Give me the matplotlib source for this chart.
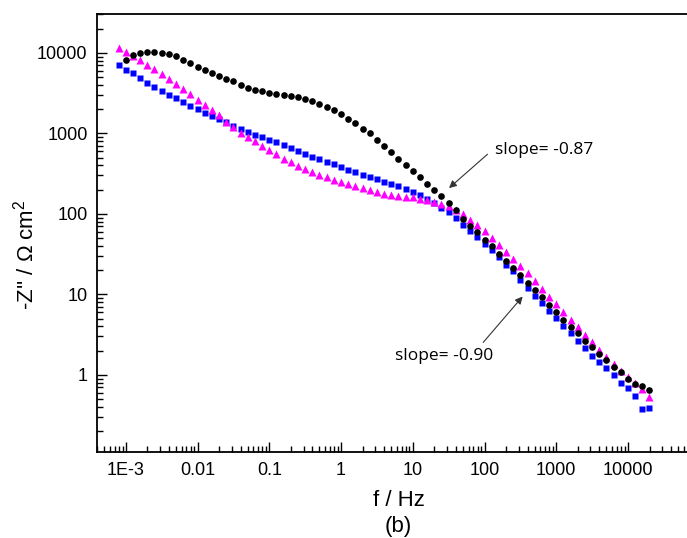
import matplotlib
matplotlib.use("Agg")
import matplotlib.pyplot as plt
from matplotlib.ticker import FixedLocator, FixedFormatter, LogLocator, NullFormatter

plt.rcParams['font.family'] = ['Liberation Sans', 'DejaVu Sans']
plt.rcParams['mathtext.fontset'] = 'custom'
plt.rcParams['mathtext.rm'] = 'Liberation Sans'

# frequencies, Hz (10 points per decade)
freq = [
    7.94e-4,
    1.00e-3, 1.26e-3, 1.58e-3, 2.00e-3, 2.51e-3, 3.16e-3, 3.98e-3, 5.01e-3, 6.31e-3, 7.94e-3,
    1.00e-2, 1.26e-2, 1.58e-2, 2.00e-2, 2.51e-2, 3.16e-2, 3.98e-2, 5.01e-2, 6.31e-2, 7.94e-2,
    1.00e-1, 1.26e-1, 1.58e-1, 2.00e-1, 2.51e-1, 3.16e-1, 3.98e-1, 5.01e-1, 6.31e-1, 7.94e-1,
    1.00, 1.26, 1.58, 2.00, 2.51, 3.16, 3.98, 5.01, 6.31, 7.94,
    10.0, 12.6, 15.8, 20.0, 25.1, 31.6, 39.8, 50.1, 63.1, 79.4,
    100, 126, 158, 200, 251, 316, 398, 501, 631, 794,
    1000, 1259, 1585, 1995, 2512, 3162, 3981, 5012, 6310, 7943,
    10000, 12589, 15849, 19953,
]

# -Z'' (ohm cm2)
z_black = [  # starts at 1E-3
    8110, 9360, 10000, 10110, 10200, 10000, 9550, 9020, 8180, 7510,
    6700, 6100, 5640, 5130, 4710, 4450, 3980, 3700, 3505, 3340,
    3210, 3090, 3000, 2915, 2830, 2675, 2557, 2346, 2128, 1937,
    1761, 1527, 1347, 1146, 1002, 836, 704, 595, 485, 408,
    340, 286, 237, 196, 165, 136, 112, 87, 70, 59,
    48, 40, 32, 26.3, 21.1, 17.3, 13.8, 11.2, 9.19, 7.39,
    5.99, 4.81, 3.97, 3.28, 2.66, 2.24, 1.81, 1.53, 1.26, 1.07,
    0.89, 0.78, 0.73, 0.65,
]
z_magenta = [
    11660, 10300, 9180, 8110, 7170, 6220, 5430, 4710, 4050, 3510,
    3065, 2630, 2280, 1940, 1680, 1375, 1200, 1020, 901, 796,
    704, 615, 548, 485, 436, 392, 357, 328, 303, 284,
    266, 248, 234, 221, 209, 196, 185, 176, 171, 167,
    164, 160, 154, 147, 140, 134, 124, 112, 100, 84.5,
    71.8, 62, 49.9, 41.2, 33.4, 27.6, 22.5, 18.2, 14.5, 11.7,
    9.38, 7.60, 5.98, 4.81, 3.89, 3.16, 2.53, 2.04, 1.68, 1.36,
    1.12, 0.93, 0.79, 0.67, 0.53,
]
z_blue = [
    7030, 6100, 5550, 4890, 4240, 3780, 3370, 3000, 2750, 2455,
    2190, 2010, 1790, 1640, 1495, 1385, 1235, 1130, 1031, 964,
    901, 836, 774, 710, 657, 603, 560, 514, 475, 445,
    412, 381, 354, 330, 307, 286, 270, 248, 232, 219,
    201, 186, 173, 154, 137, 119, 105, 89, 72, 62,
    51, 42.4, 35.7, 28.9, 23.4, 19.4, 15.0, 11.9, 9.66, 7.74,
    6.28, 5.09, 4.08, 3.28, 2.66, 2.13, 1.73, 1.43, 1.22, 1.00,
    0.80, 0.68, 0.55, 0.375, 0.39,
]

xticks = [1e-3, 1e-2, 1e-1, 1, 10, 100, 1000, 10000]
xtick_labels = ['1E-3', '0.01', '0.1', '1', '10', '100', '1000', '10000']
yticks = [1, 10, 100, 1000, 10000]
ytick_labels = ['1', '10', '100', '1000', '10000']

fig = plt.figure(figsize=(6.87, 5.38), dpi=100)
# the frame runs off the right edge of the picture, as in the original
ax = fig.add_axes([0.1416, 0.1599, 0.8769, 0.8132])

ax.plot(freq[1:], z_black, 'o', color='black', ms=4.8, mec='none', zorder=3)
ax.plot(freq, z_blue, 's', color='#0000ff', ms=4.4, mec='none', zorder=2)
ax.plot(freq, z_magenta, '^', color='#ff00ff', ms=5.8, mec='none', zorder=2)

ax.set_xscale('log')
ax.set_yscale('log')
ax.set_xlim(4e-4, 1e5)
ax.set_ylim(0.11, 3e4)

ax.xaxis.set_major_locator(FixedLocator(xticks))
ax.xaxis.set_major_formatter(FixedFormatter(xtick_labels))
ax.yaxis.set_major_locator(FixedLocator(yticks))
ax.yaxis.set_major_formatter(FixedFormatter(ytick_labels))
for axis in (ax.xaxis, ax.yaxis):
    axis.set_minor_locator(LogLocator(base=10, subs=range(2, 10), numticks=20))
    axis.set_minor_formatter(NullFormatter())

ax.tick_params(which='both', direction='in', top=False, right=False, width=1.0, labelsize=13)
ax.tick_params(which='major', length=7, pad=7)
ax.tick_params(which='minor', length=4)
for sp in ax.spines.values():
    sp.set_linewidth(1.3)

ax.set_xlabel('f / Hz\n(b)', fontsize=16, linespacing=1.3, labelpad=8)
ax.set_ylabel("-Z'' / \u03a9 cm$^{2}$", fontsize=16)
ax.yaxis.set_label_coords(-0.097, 0.45)

# slope annotations
arrow = dict(arrowstyle='-|>', color='#333333', lw=0.8, mutation_scale=11, shrinkA=0, shrinkB=0)
ax.annotate('', xy=(32, 209), xytext=(110, 550), arrowprops=arrow)
ax.annotate('', xy=(340, 9.4), xytext=(96, 2.53), arrowprops=arrow)
ax.text(140, 615, 'slope= -0.87', fontsize=12.5, family=['Open Sans', 'DejaVu Sans'], ha='left', va='center')
ax.text(5.65, 1.73, 'slope= -0.90', fontsize=12.5, family=['Open Sans', 'DejaVu Sans'], ha='left', va='center')

fig.savefig('out.png', dpi=100)
